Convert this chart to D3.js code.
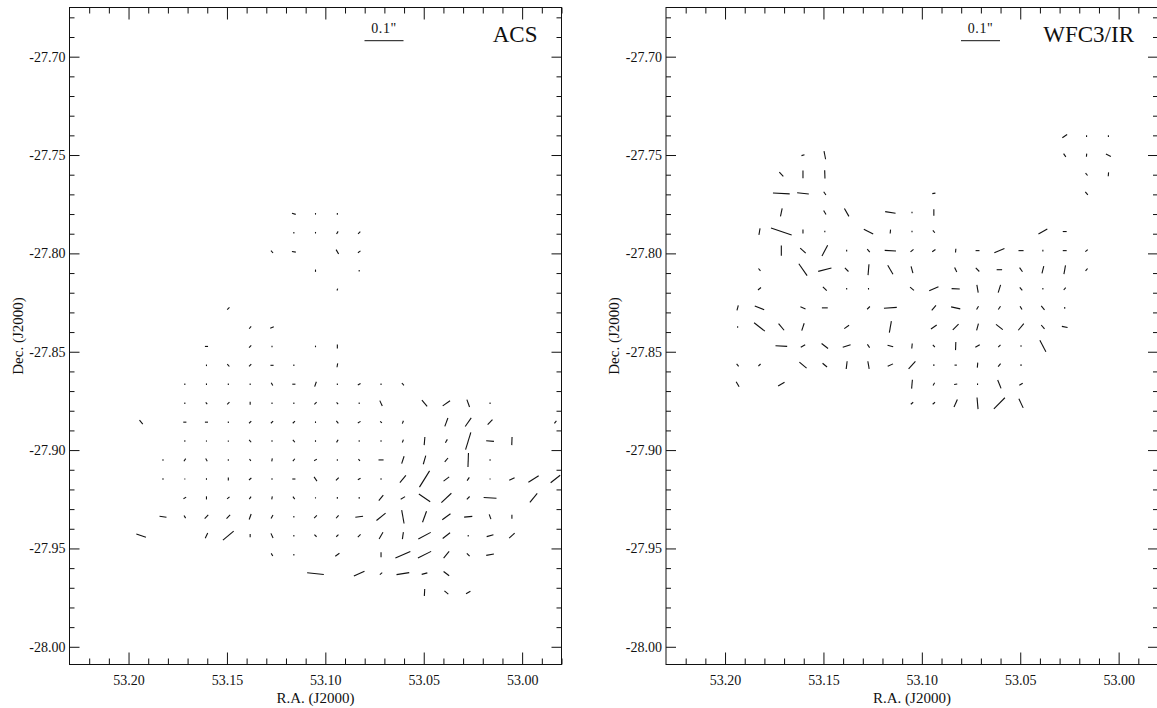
<!DOCTYPE html>
<html><head><meta charset="utf-8">
<script src="https://cdn.jsdelivr.net/npm/d3@7"></script>
<style>
body{margin:0;background:#fff}
svg{display:block}
text{font-family:"Liberation Serif","Times New Roman",Times,serif;fill:#111}
</style>
</head><body>
<svg id="c" width="1157" height="708"></svg>
<script>
// ---- data ----
const raDomain = [53.23, 52.98];
const decDomain = [-27.675, -28.009];
const xTickValues = [53.20, 53.15, 53.10, 53.05, 53.00];
const yTickValues = [-27.70, -27.75, -27.80, -27.85, -27.90, -27.95, -28.00];
const panelTitles = ["ACS", "WFC3/IR"];
const scaleBarArcsec = 0.1;
const scaleBarLabel = '0.1"';
const xTitle = "R.A. (J2000)";
const yTitle = "Dec. (J2000)";

// grid-point right ascensions (deg)
const raGrid = [53.1936, 53.1825, 53.1714, 53.1604, 53.1493, 53.1382, 53.1271, 53.1160, 53.1050, 53.0939,
                53.0828, 53.0717, 53.0606, 53.0496, 53.0385, 53.0274, 53.0163, 53.0052, 52.9942, 52.9831];
// grid-point declinations (deg)
const acsDecGrid = [-27.7799, -27.7895, -27.7992, -27.8088, -27.8184, -27.8280, -27.8377, -27.8473, -27.8569, -27.8665,
                    -27.8762, -27.8858, -27.8954, -27.9050, -27.9147, -27.9243, -27.9339, -27.9435, -27.9532, -27.9628, -27.9724];
const wfcDecGrid = [-27.7404, -27.7501, -27.7598, -27.7695, -27.7792, -27.7889, -27.7986, -27.8083, -27.8180, -27.8277,
                    -27.8374, -27.8471, -27.8568, -27.8665, -27.8762];

// [RA index, Dec index, length (arcsec), orientation (deg, CCW from +x on page)]
const acsVectors = [
 [7,0,.010,-15],[8,0,.004,90],[9,0,.004,90],
 [7,1,.004,90],[8,1,.004,90],[9,1,.008,60],[10,1,.008,45],
 [6,2,.008,-50],[7,2,.010,-10],[9,2,.013,-60],[10,2,.008,35],
 [8,3,.006,90],[10,3,.004,90],
 [9,4,.005,70],
 [4,5,.008,45],
 [5,6,.008,50],[6,6,.010,25],
 [3,7,.008,0],[5,7,.008,45],[6,7,.004,90],[8,7,.004,90],[9,7,.010,90],
 [3,8,.004,90],[4,8,.008,-50],[5,8,.008,45],[6,8,.008,0],[7,8,.004,90],[9,8,.010,80],
 [2,9,.004,90],[3,9,.004,90],[4,9,.004,90],[5,9,.004,90],[6,9,.008,-60],[7,9,.008,0],[8,9,.013,70],[9,9,.004,90],[10,9,.008,30],[11,9,.004,90],[12,9,.008,-50],
 [2,10,.004,90],[3,10,.006,-50],[4,10,.008,45],[5,10,.008,90],[6,10,.004,90],[7,10,.004,90],[8,10,.008,45],[9,10,.006,-50],[10,10,.004,90],[11,10,.015,-65],[13,10,.021,-50],[14,10,.023,35],[15,10,.020,-70],[16,10,.004,90],
 [0,11,.013,-50],[2,11,.008,0],[3,11,.008,0],[4,11,.004,90],[5,11,.008,45],[6,11,.008,45],[7,11,.008,45],[8,11,.004,90],[9,11,.008,-50],[10,11,.008,30],[11,11,.006,-45],[12,11,.008,70],[14,11,.023,70],[15,11,.027,55],[16,11,.018,47],[19,11,.008,50],
 [2,12,.004,90],[3,12,.003,90],[4,12,.003,90],[5,12,.008,-50],[6,12,.004,90],[7,12,.008,-50],[8,12,.004,90],[9,12,.008,60],[10,12,.004,90],[11,12,.004,90],[12,12,.008,70],[13,12,.021,85],[14,12,.010,60],[15,12,.046,73],[16,12,.020,-5],[17,12,.021,88],
 [1,13,.004,90],[2,13,.008,55],[3,13,.008,-60],[4,13,.004,90],[5,13,.006,-55],[6,13,.008,80],[7,13,.008,50],[8,13,.008,30],[9,13,.004,90],[10,13,.006,-50],[11,13,.013,0],[12,13,.020,72],[13,13,.023,74],[14,13,.013,50],[15,13,.036,88],[16,13,.004,90],
 [1,14,.004,90],[2,14,.003,90],[3,14,.004,90],[4,14,.008,90],[5,14,.008,40],[6,14,.004,90],[7,14,.008,0],[8,14,.013,-55],[9,14,.010,45],[10,14,.008,30],[11,14,.004,90],[12,14,.024,50],[13,14,.049,58],[14,14,.018,37],[15,14,.010,55],[16,14,.003,90],[17,14,.015,25],[18,14,.031,32],[19,14,.031,38],
 [2,15,.008,30],[3,15,.008,90],[4,15,.008,40],[5,15,.008,55],[6,15,.008,80],[7,15,.008,-55],[8,15,.003,90],[9,15,.004,90],[10,15,.004,90],[11,15,.018,50],[12,15,.013,30],[13,15,.035,-34],[14,15,.035,43],[15,15,.010,45],[16,15,.033,-3],[18,15,.030,51],
 [1,16,.018,-8],[2,16,.008,-60],[3,16,.013,45],[4,16,.013,45],[5,16,.015,70],[6,16,.010,60],[7,16,.004,90],[8,16,.010,45],[9,16,.010,50],[10,16,.020,8],[11,16,.030,39],[12,16,.035,-80],[13,16,.030,70],[14,16,.026,36],[15,16,.021,5],[16,16,.013,-70],[17,16,.010,90],
 [0,17,.026,-19],[3,17,.015,65],[4,17,.036,40],[5,17,.008,90],[6,17,.013,-65],[7,17,.004,90],[8,17,.008,-45],[9,17,.008,45],[10,17,.010,45],[11,17,.020,60],[12,17,.018,82],[13,17,.036,28],[14,17,.024,38],[15,17,.004,90],[16,17,.018,16],[17,17,.019,42],
 [6,18,.008,-60],[7,18,.004,90],[9,18,.013,35],[11,18,.013,90],[12,18,.042,24],[13,18,.038,27],[14,18,.022,50],[15,18,.010,-45],[16,18,.020,10],
 [8,19,.043,-6],[10,19,.030,25],[11,19,.008,40],[12,19,.033,9],[13,19,.015,15],[14,19,.018,-38],
 [13,20,.018,87],[14,20,.013,-40],[15,20,.013,30]
];

const wfcVectors = [
 [15,0,.015,35],[16,0,.004,90],[17,0,.004,90],
 [3,1,.008,15],[4,1,.021,-79],[15,1,.010,-55],[16,1,.008,85],[17,1,.014,-25],
 [2,2,.015,-47],[3,2,.020,90],[4,2,.021,-88],[16,2,.008,-50],[17,2,.010,85],
 [2,3,.043,-3],[3,3,.030,-6],[4,3,.010,-55],[9,3,.008,10],[16,3,.010,-50],
 [2,4,.021,78],[4,4,.012,-60],[5,4,.023,-60],[7,4,.027,-9],[8,4,.004,90],[9,4,.017,90],
 [1,5,.017,80],[2,5,.056,-19],[3,5,.010,90],[4,5,.004,90],[6,5,.027,-27],[7,5,.010,85],[8,5,.004,90],[9,5,.008,-50],[14,5,.026,29],[15,5,.010,0],
 [2,6,.026,90],[3,6,.019,-42],[4,6,.031,62],[5,6,.004,90],[6,6,.010,-50],[7,6,.029,-3],[8,6,.010,40],[9,6,.010,35],[10,6,.010,85],[11,6,.010,0],[12,6,.028,22],[13,6,.013,0],[14,6,.004,90],[15,6,.010,0],[16,6,.008,40],
 [1,7,.008,-50],[3,7,.037,-55],[4,7,.035,14],[5,7,.013,-45],[6,7,.028,85],[7,7,.027,-60],[8,7,.018,-75],[10,7,.013,-65],[11,7,.013,-45],[12,7,.014,0],[13,7,.013,-55],[14,7,.019,76],[15,7,.023,80],[16,7,.008,50],
 [1,8,.010,40],[4,8,.014,-45],[5,8,.004,90],[6,8,.004,90],[8,8,.013,-40],[9,8,.026,24],[10,8,.021,-3],[11,8,.020,-80],[12,8,.021,73],[13,8,.010,-50],[14,8,.004,90],[15,8,.008,50],
 [0,9,.013,75],[1,9,.026,-22],[3,9,.014,-22],[4,9,.015,0],[6,9,.010,45],[7,9,.033,4],[9,9,.017,50],[10,9,.024,-12],[11,9,.010,60],[12,9,.010,55],[13,9,.010,-60],[14,9,.013,-50],[15,9,.004,90],
 [0,10,.004,90],[1,10,.035,-38],[2,10,.022,-50],[3,10,.020,72],[5,10,.015,35],[7,10,.030,80],[9,10,.018,35],[10,10,.021,45],[11,10,.018,75],[12,10,.022,-38],[13,10,.022,50],[14,10,.013,-50],[15,10,.015,-12],
 [2,11,.030,-3],[3,11,.013,30],[4,11,.021,-38],[5,11,.021,17],[6,11,.010,-55],[7,11,.015,-15],[8,11,.013,85],[9,11,.008,-50],[10,11,.021,88],[11,11,.013,30],[12,11,.008,45],[13,11,.004,90],[14,11,.033,-62],
 [0,12,.008,-50],[1,12,.008,45],[3,12,.024,-40],[4,12,.015,-40],[5,12,.020,83],[6,12,.020,-80],[7,12,.015,25],[8,12,.026,48],[9,12,.004,90],[10,12,.006,0],[11,12,.013,85],[12,12,.010,50],[13,12,.004,90],
 [0,13,.015,-60],[2,13,.019,30],[8,13,.023,85],[9,13,.008,60],[10,13,.008,10],[11,13,.004,90],[12,13,.023,-68],[13,13,.010,30],
 [8,14,.008,40],[9,14,.008,40],[10,14,.021,66],[11,14,.030,-85],[12,14,.040,45],[13,14,.026,-65]
];

// ---- drawing ----
const W = 492, H = 657;
const panels = [
  {left: 69.5, top: 7.5, title: panelTitles[0], vectors: acsVectors, decGrid: acsDecGrid},
  {left: 666,  top: 7.5, title: panelTitles[1], vectors: wfcVectors, decGrid: wfcDecGrid}
];
const svg = d3.select("#c");
const x = d3.scaleLinear().domain(raDomain).range([0, W]);
const y = d3.scaleLinear().domain(decDomain).range([0, H]);
const len = d3.scaleLinear().domain([0, 0.1]).range([0, 39]);
const xMinor = d3.range(53.22, 52.98, -0.01).map(v => +v.toFixed(2)).filter(v => !xTickValues.some(t => Math.abs(t - v) < 1e-6));
const yMinor = d3.range(-27.68, -28.009, -0.01).map(v => +v.toFixed(2)).filter(v => !yTickValues.some(t => Math.abs(t - v) < 1e-6));
const fmt = d => d.toFixed(2);

function styleAxis(g){
  g.select(".domain").remove();
  g.selectAll(".tick line").attr("stroke", "#111").attr("stroke-width", 1);
  g.selectAll("text").attr("font-size", 14).attr("fill", "#111")
   .style("font-family", '"Liberation Serif","Times New Roman",serif');
}

panels.forEach(p => {
  const g = svg.append("g").attr("transform", `translate(${p.left},${p.top})`);

  // axes, ticks pointing inward
  g.append("g").attr("transform", `translate(0,${H})`)
    .call(d3.axisBottom(x).tickValues(xTickValues).tickSize(-12).tickPadding(11).tickFormat(fmt)).call(styleAxis);
  g.append("g").attr("transform", `translate(0,${H})`)
    .call(d3.axisBottom(x).tickValues(xMinor).tickSize(-6).tickFormat("")).call(styleAxis);
  g.append("g").call(d3.axisTop(x).tickValues(xTickValues).tickSize(-12).tickFormat("")).call(styleAxis);
  g.append("g").call(d3.axisTop(x).tickValues(xMinor).tickSize(-6).tickFormat("")).call(styleAxis);
  g.append("g").call(d3.axisLeft(y).tickValues(yTickValues).tickSize(-10).tickPadding(4).tickFormat(fmt)).call(styleAxis);
  g.append("g").call(d3.axisLeft(y).tickValues(yMinor).tickSize(-5).tickFormat("")).call(styleAxis);
  g.append("g").attr("transform", `translate(${W},0)`)
    .call(d3.axisRight(y).tickValues(yTickValues).tickSize(-10).tickFormat("")).call(styleAxis);
  g.append("g").attr("transform", `translate(${W},0)`)
    .call(d3.axisRight(y).tickValues(yMinor).tickSize(-5).tickFormat("")).call(styleAxis);

  // frame
  g.append("rect").attr("x", 0).attr("y", 0).attr("width", W).attr("height", H)
    .attr("fill", "none").attr("stroke", "#111").attr("stroke-width", 1);

  // axis titles
  g.append("text").attr("x", W / 2).attr("y", H + 38).attr("text-anchor", "middle")
    .attr("font-size", 15).text(xTitle);
  g.append("text").attr("transform", `translate(-47,${H / 2}) rotate(-90)`)
    .attr("text-anchor", "middle").attr("font-size", 15).text(yTitle);

  // title
  g.append("text").attr("x", W - 24).attr("y", 34).attr("text-anchor", "end")
    .attr("font-size", 23).text(p.title);

  // scale bar
  const bx = 295, by = 33.2;
  g.append("line").attr("x1", bx).attr("x2", bx + len(scaleBarArcsec))
    .attr("y1", by).attr("y2", by).attr("stroke", "#111").attr("stroke-width", 1);
  g.append("text").attr("x", bx + len(scaleBarArcsec) / 2).attr("y", by - 7.5)
    .attr("text-anchor", "middle").attr("font-size", 14).attr("letter-spacing", 0.6).text(scaleBarLabel);

  // whiskers
  g.append("g").selectAll("line").data(p.vectors).join("line")
    .attr("stroke", "#111").attr("stroke-width", 1.1)
    .each(function(d){
      const cx = x(raGrid[d[0]]), cy = y(p.decGrid[d[1]]);
      const L = len(d[2]) / 2, a = d[3] * Math.PI / 180;
      d3.select(this)
        .attr("x1", cx - Math.cos(a) * L).attr("y1", cy + Math.sin(a) * L)
        .attr("x2", cx + Math.cos(a) * L).attr("y2", cy - Math.sin(a) * L);
    });
});
</script>
</body></html>
